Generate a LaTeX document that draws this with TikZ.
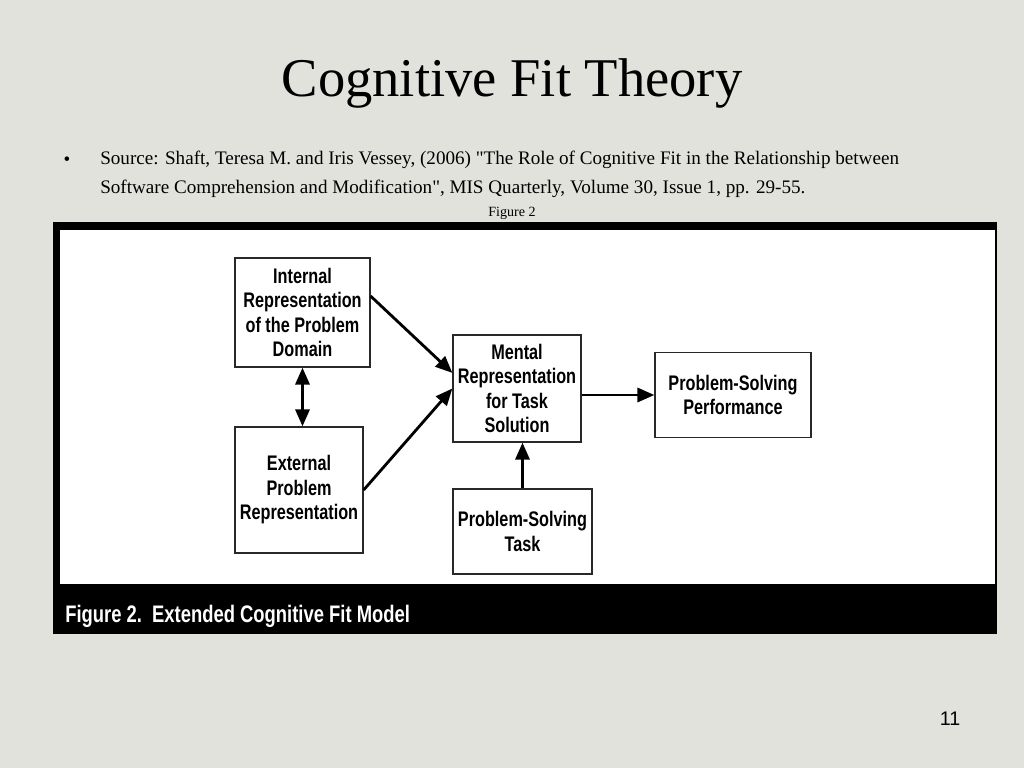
\documentclass[tikz,border=0pt]{standalone}
\usepackage{fontspec}
\usepackage{tikz}
\usetikzlibrary{arrows.meta}
\setmainfont{Liberation Serif}
\newfontfamily\figfont[FakeStretch=0.77]{Liberation Sans}
\newfontfamily\numfont{Liberation Sans}
\definecolor{slidebg}{RGB}{226,226,221}
\definecolor{boxline}{RGB}{40,40,40}
\def\boxtext{\figfont\bfseries\fontsize{15}{17.4}\selectfont}
\def\tip{Triangle[length=12pt,width=10pt]}

\begin{document}
\begin{tikzpicture}[x=0.025cm,y=-0.025cm,
    box/.style={draw=boxline,line width=0.9pt,fill=white,align=center,inner sep=2pt,font=\boxtext},
    link/.style={line width=2pt,-{\tip}},
    twoway/.style={line width=2pt,{\tip}-{\tip}}]
                \fill[slidebg] (0,0) rectangle (1024,768);
                \node[anchor=base,font=\fontsize{38.8}{44}\selectfont] (title) at (512,97) {Cognitive Fit Theory};
                \node[anchor=base,font=\fontsize{13.6}{20}\selectfont] (bullet) at (67,165) {•};
                \node[anchor=base west,inner sep=0pt,align=left,font=\fontsize{13.6}{20}\selectfont] (source) at (100,193)
                    {Source: Shaft, Teresa M. and Iris Vessey, (2006) \textquotedbl The Role of Cognitive Fit in the Relationship between\\
                     Software Comprehension and Modification\textquotedbl, MIS Quarterly, Volume 30, Issue 1, pp. 29-55.};
                \node[anchor=base,font=\fontsize{10}{12}\selectfont] (figref) at (512,216) {Figure 2};
                \begin{scope}
                    \fill[black] (53,222) rectangle (997,634);
                    \fill[white] (60,230) rectangle (995,584);
                    \node[anchor=base west,inner sep=0pt,text=white,font=\figfont\bfseries\fontsize{17}{19}\selectfont] (caption) at (65,622)
                        {Figure 2.\ \ Extended Cognitive Fit Model};
                \end{scope}
                \node[box,minimum width=3.375cm,minimum height=2.725cm] (int) at (302.5,312.5)
                    {Internal\\Representation\\of the Problem\\Domain};
                \node[box,minimum width=3.2cm,minimum height=3.15cm] (ext) at (299,490)
                    {External\\Problem\\Representation};
                \node[box,minimum width=3.2cm,minimum height=2.675cm] (ment) at (517,388.5)
                    {Mental\\Representation\\for Task\\Solution};
                \node[box,minimum width=3.9cm,minimum height=2.125cm] (perf) at (733,395)
                    {Problem-Solving\\Performance};
                \node[box,minimum width=3.475cm,minimum height=2.125cm] (task) at (522.5,531.5)
                    {Problem-Solving\\Task};
                \draw[link] ([yshift=0.41cm]int.east) -- ([yshift=0.39cm]ment.west);
                \draw[link] (ext.east) -- (ment.west);
                \draw[twoway] (int.south) -- (int.south |- ext.north);
                \draw[link] (ment.east |- perf.west) -- (perf.west);
                \draw[link] (task.north) -- (task.north |- ment.south);
                \node[anchor=base,font=\numfont\fontsize{14}{16}\selectfont] (pagenum) at (950,725) {11};
            \end{tikzpicture}
\end{document}
